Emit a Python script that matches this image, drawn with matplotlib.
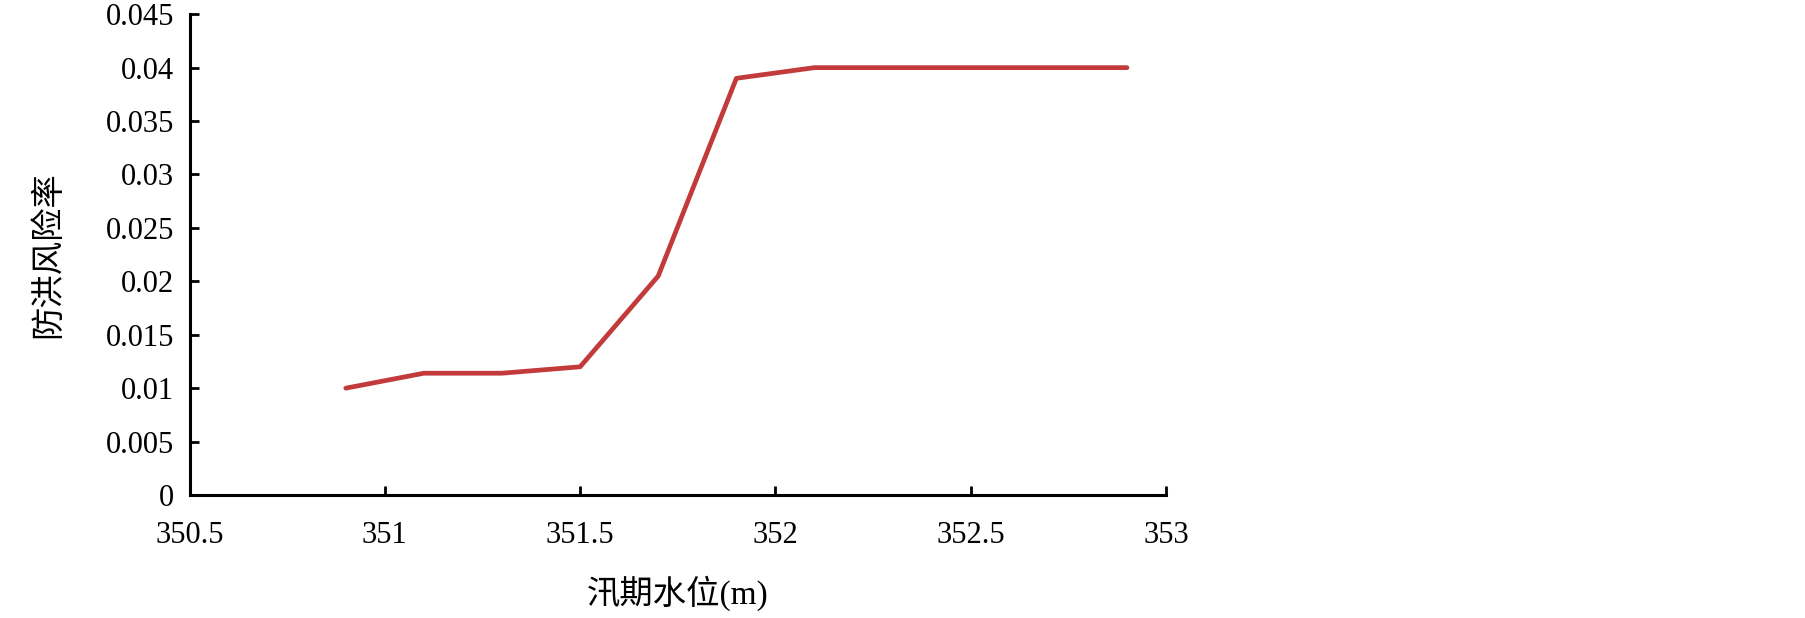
import numpy as np
import matplotlib
matplotlib.use("Agg")
import matplotlib.pyplot as plt
from matplotlib.ticker import FuncFormatter

# 汛期水位 (m) 与 防洪风险率
water_level = [350.9, 351.1, 351.3, 351.5, 351.7, 351.9, 352.1, 352.3, 352.5, 352.7, 352.9]
flood_risk = [0.0100, 0.0114, 0.0114, 0.0120, 0.0205, 0.0390, 0.0400, 0.0400, 0.0400, 0.0400, 0.0400]

x_ticks = [350.5, 351, 351.5, 352, 352.5, 353]
y_ticks = [0, 0.005, 0.01, 0.015, 0.02, 0.025, 0.03, 0.035, 0.04, 0.045]

plt.rcParams['font.family'] = ['Liberation Serif', 'Noto Sans CJK SC']

fig = plt.figure(figsize=(18.05, 6.18), dpi=100)
ax = fig.add_axes([0.105, 0.199, 0.541, 0.778])

ax.plot(water_level, flood_risk, color='#C23A3A', lw=3.4, solid_capstyle='round')

ax.set_xlim(350.5, 353)
ax.set_ylim(0, 0.045)
ax.set_xticks(x_ticks)
ax.set_yticks(y_ticks)
fmt = FuncFormatter(lambda v, p: f"{v:g}")
ax.xaxis.set_major_formatter(fmt)
ax.yaxis.set_major_formatter(fmt)

for s in ['top', 'right']:
    ax.spines[s].set_visible(False)
for s in ['left', 'bottom']:
    ax.spines[s].set_linewidth(2.2)

ax.tick_params(axis='x', direction='in', length=6.5, width=2, pad=19, labelsize=22)
ax.tick_params(axis='y', direction='in', length=6.5, width=2, pad=11, labelsize=22)

ax.set_xlabel('汛期水位(m)', fontsize=24, labelpad=18)
ax.set_ylabel('防洪风险率', fontsize=24, labelpad=30)

fig.savefig('out.png', dpi=100, facecolor='white')
